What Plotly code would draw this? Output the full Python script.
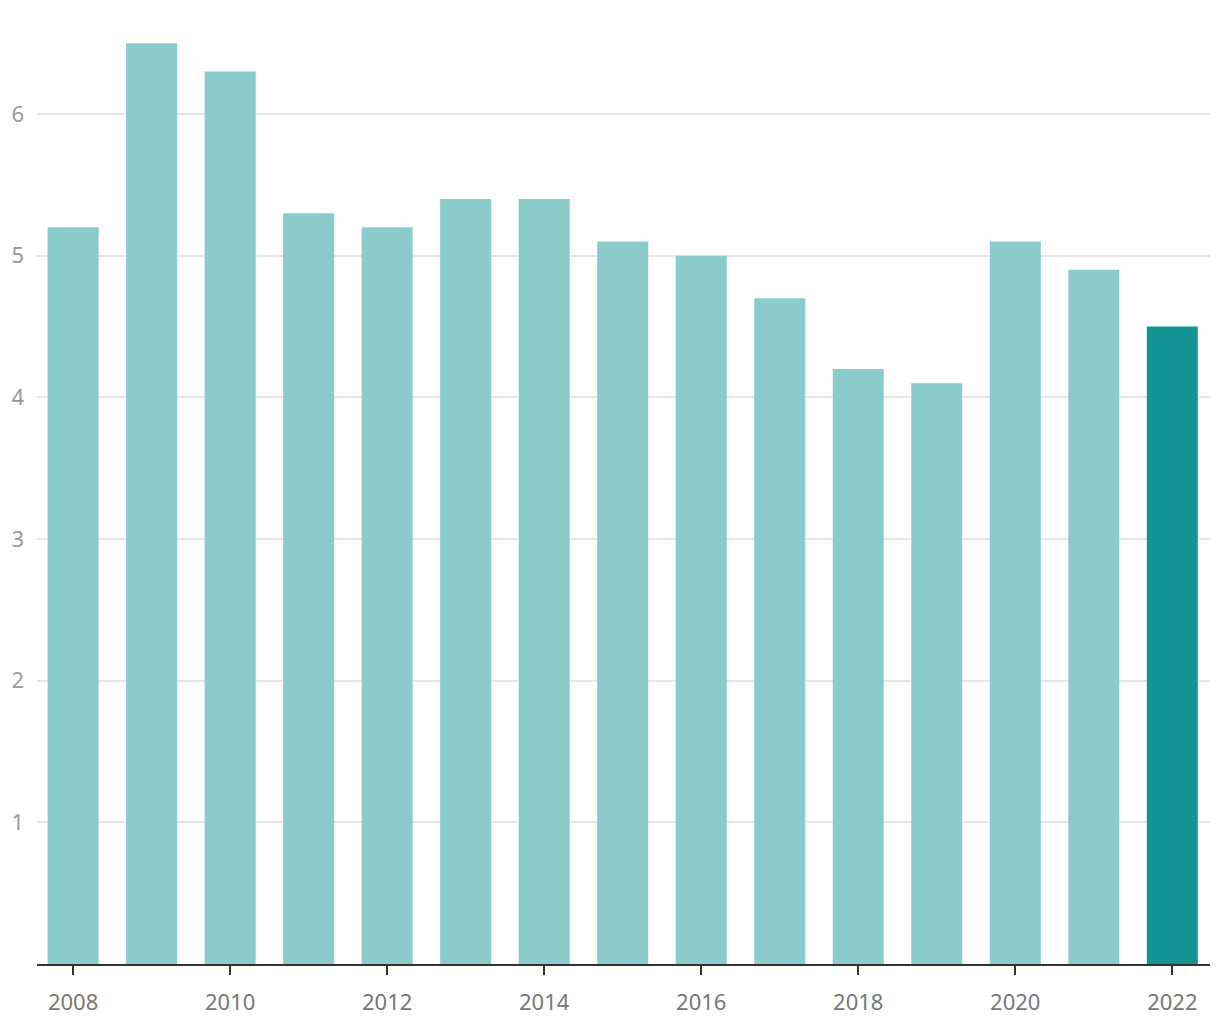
import plotly.graph_objects as go

years = list(range(2008, 2023))
values = [5.2, 6.5, 6.3, 5.3, 5.2, 5.4, 5.4, 5.1, 5.0, 4.7, 4.2, 4.1, 5.1, 4.9, 4.5]
light = "#8ccbcb"
dark = "#149594"
colors = [light] * (len(years) - 1) + [dark]

y_ticks = [1, 2, 3, 4, 5, 6]
x_ticks = list(range(2008, 2023, 2))

fig = go.Figure(go.Bar(x=years, y=values, marker=dict(color=colors, line=dict(width=0)), width=0.65))

fig.update_layout(
    width=1220, height=1020,
    margin=dict(l=37, r=10, t=10, b=56),
    plot_bgcolor="white", paper_bgcolor="white",
    font=dict(family="Noto Sans", size=22),
    showlegend=False,
    xaxis=dict(
        range=[2007.54, 2022.48],
        tickvals=x_ticks, ticktext=[str(t) for t in x_ticks],
        ticks="outside", ticklen=9, tickwidth=2, tickcolor="#333333",
        showline=True, linecolor="#333333", linewidth=2,
        showgrid=False, zeroline=False, ticklabelstandoff=9,
        automargin=False,
        tickfont=dict(color="#777777", size=22),
    ),
    yaxis=dict(
        range=[0, 6.734],
        tickvals=y_ticks, ticktext=[str(t) for t in y_ticks],
        showgrid=True, gridcolor="#e6e6e6", gridwidth=1.5,
        zeroline=False, ticks="", ticklabelstandoff=12,
        automargin=False,
        tickfont=dict(color="#999999", size=22),
    ),
)

fig.write_html("out.html")
